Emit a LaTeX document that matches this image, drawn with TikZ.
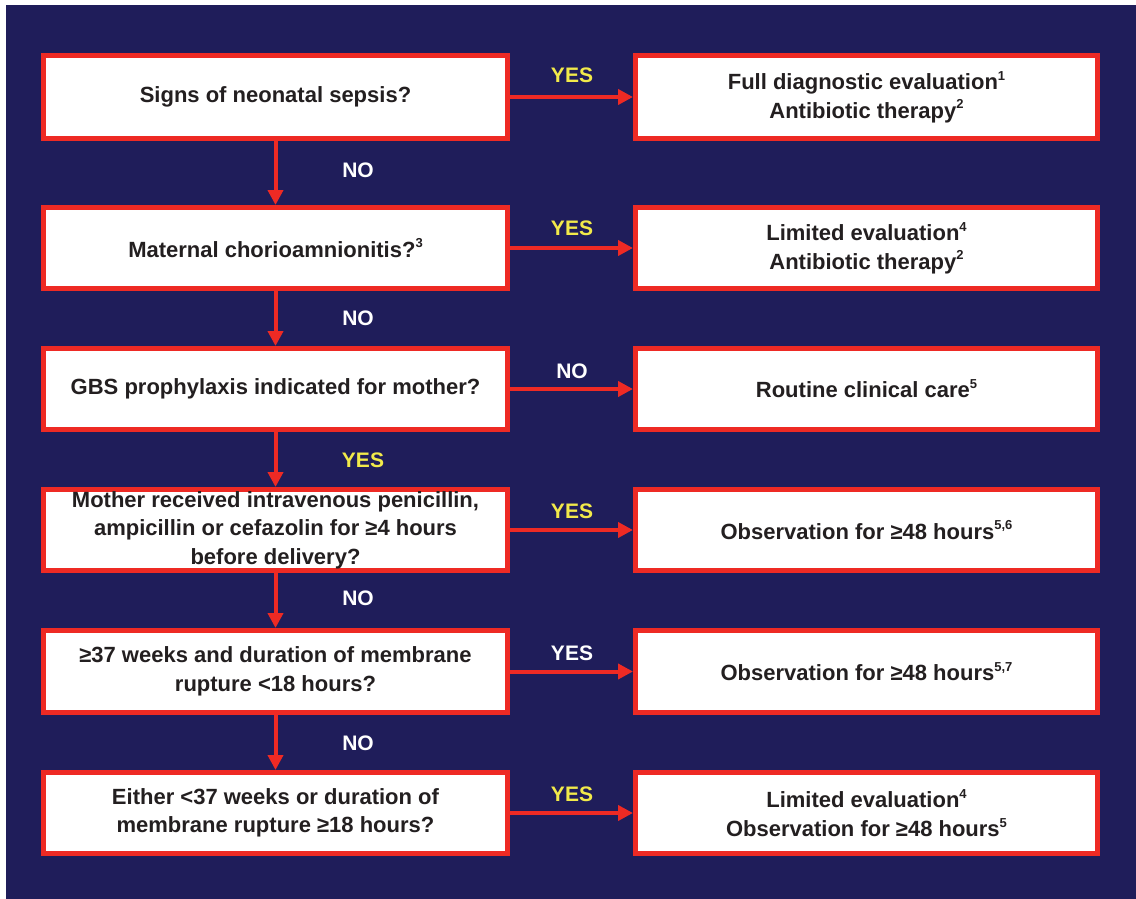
\documentclass[tikz,border=0pt]{standalone}
\usepackage{fontspec}
\setmainfont{Liberation Sans}
\usetikzlibrary{arrows.meta}
\definecolor{navy}{HTML}{1F1D5A}
\definecolor{boxred}{HTML}{EE2A24}
\definecolor{lblyellow}{HTML}{F2EA4A}
\definecolor{txt}{HTML}{231F20}
\newcommand{\sups}[1]{\raisebox{0.42em}{\fontsize{13}{13}\selectfont #1}}
\begin{document}
\begin{tikzpicture}[x=1pt,y=-1pt,
  flowbox/.style={draw=boxred, line width=5pt, fill=white, minimum height=81pt,
    align=center, text=txt, font=\bfseries\fontsize{22}{28.5}\selectfont, inner sep=0pt},
  leftbox/.style={flowbox, minimum width=464pt},
  rightbox/.style={flowbox, minimum width=462pt},
  arr/.style={draw=boxred, line width=4pt, -{Triangle[length=15pt,width=15pt]}},
  lblw/.style={text=white, font=\bfseries\fontsize{21}{24}\selectfont},
  lbly/.style={text=lblyellow, font=\bfseries\fontsize{21}{24}\selectfont}]
\useasboundingbox (0,0) rectangle (1136,899);
\fill[white] (0,0) rectangle (1136,899);
\fill[navy] (6,5) rectangle (1136,899);

\node[leftbox, minimum height=83pt] (l1) at (275.5,97) {Signs of neonatal sepsis?};
\node[leftbox] (l2) at (275.5,248) {Maternal chorioamnionitis?\sups{3}};
\node[leftbox] (l3) at (275.5,389) {GBS prophylaxis indicated for mother?};
\node[leftbox] (l4) at (275.5,530) {Mother received intravenous penicillin,\\ampicillin or cefazolin for ≥4 hours\\before delivery?};
\node[leftbox, minimum height=82pt] (l5) at (275.5,671.5) {≥37 weeks and duration of membrane\\rupture <18 hours?};
\node[leftbox] (l6) at (275.5,813) {Either <37 weeks or duration of\\membrane rupture ≥18 hours?};

\node[rightbox, minimum height=83pt] (r1) at (866.5,97) {Full diagnostic evaluation\sups{1}\\Antibiotic therapy\sups{2}};
\node[rightbox] (r2) at (866.5,248) {Limited evaluation\sups{4}\\Antibiotic therapy\sups{2}};
\node[rightbox] (r3) at (866.5,389) {Routine clinical care\sups{5}};
\node[rightbox] (r4) at (866.5,530) {Observation for ≥48 hours\sups{5,6}};
\node[rightbox, minimum height=82pt] (r5) at (866.5,671.5) {Observation for ≥48 hours\sups{5,7}};
\node[rightbox] (r6) at (866.5,813) {Limited evaluation\sups{4}\\Observation for ≥48 hours\sups{5}};

\foreach \i/\j in {1/2,2/3,3/4,4/5,5/6}{
  \draw[arr] (l\i.south) -- (l\j.north);
}
\foreach \i in {1,...,6}{
  \draw[arr] (l\i.east) -- (r\i.west);
}

\node[lbly] (y1) at (572,75) {YES};
\node[lblw] (n12) at (358,170) {NO};
\node[lbly] (y2) at (572,228) {YES};
\node[lblw] (n23) at (358,318) {NO};
\node[lblw] (n3) at (572,371) {NO};
\node[lbly] (y34) at (363,460) {YES};
\node[lbly] (y4) at (572,511) {YES};
\node[lblw] (n45) at (358,598) {NO};
\node[lblw] (y5) at (572,653) {YES};
\node[lblw] (n56) at (358,743) {NO};
\node[lbly] (y6) at (572,794) {YES};
\end{tikzpicture}
\end{document}
